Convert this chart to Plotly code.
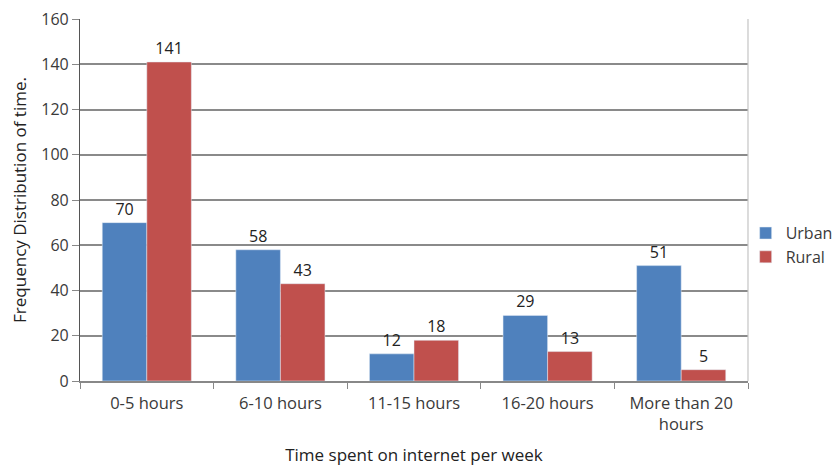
import plotly.graph_objects as go

categories = ["0-5 hours", "6-10 hours", "11-15 hours", "16-20 hours", "More than 20<br>hours"]
urban = [70, 58, 12, 29, 51]
rural = [141, 43, 18, 13, 5]

font = "Open Sans, Liberation Sans, sans-serif"
txt = "#3a3a3a"

fig = go.Figure()
fig.add_trace(go.Bar(name="Urban", x=categories, y=urban, marker_color="#4F81BD",
                     text=urban, textposition="outside", cliponaxis=False,
                     textfont=dict(size=16, color="#222")))
fig.add_trace(go.Bar(name="Rural", x=categories, y=rural, marker_color="#C0504D",
                     text=rural, textposition="outside", cliponaxis=False,
                     textfont=dict(size=16, color="#222")))

fig.update_layout(
    width=835, height=466,
    margin=dict(l=80, r=87, t=19, b=85, autoexpand=False),
    paper_bgcolor="white", plot_bgcolor="white",
    barmode="group", bargap=0.333, bargroupgap=0,
    font=dict(family=font, size=16, color=txt),
    legend=dict(xref="container", yref="container", x=0.893, y=0.474,
                xanchor="left", yanchor="middle",
                font=dict(size=16, color=txt), tracegroupgap=0,
                bgcolor="rgba(0,0,0,0)", itemwidth=30),
    showlegend=True,
)
fig.update_xaxes(
    title=dict(text="Time spent on internet per week", font=dict(size=17, color="#222"), standoff=22),
    showline=True, linecolor="#888", linewidth=1.5,
    ticks="outside", tickson="boundaries", ticklen=6, tickcolor="#888",
    ticklabelstandoff=6,
    tickfont=dict(size=16.5, color=txt),
    mirror=False,
)
fig.update_yaxes(
    title=dict(text="Frequency Distribution of time.", font=dict(size=17, color="#222"), standoff=10),
    range=[0, 160], dtick=20,
    showgrid=True, gridcolor="#8a8a8a", gridwidth=1.5,
    showline=True, linecolor="#555", linewidth=1.2,
    ticks="outside", ticklen=7, tickcolor="#888",
    tickfont=dict(size=16, color=txt),
    zeroline=False,
)
fig.add_shape(type="line", xref="paper", yref="paper", x0=1, x1=1, y0=0, y1=1,
              line=dict(color="#c4c4c4", width=1.2))

fig.write_html("out.html")
